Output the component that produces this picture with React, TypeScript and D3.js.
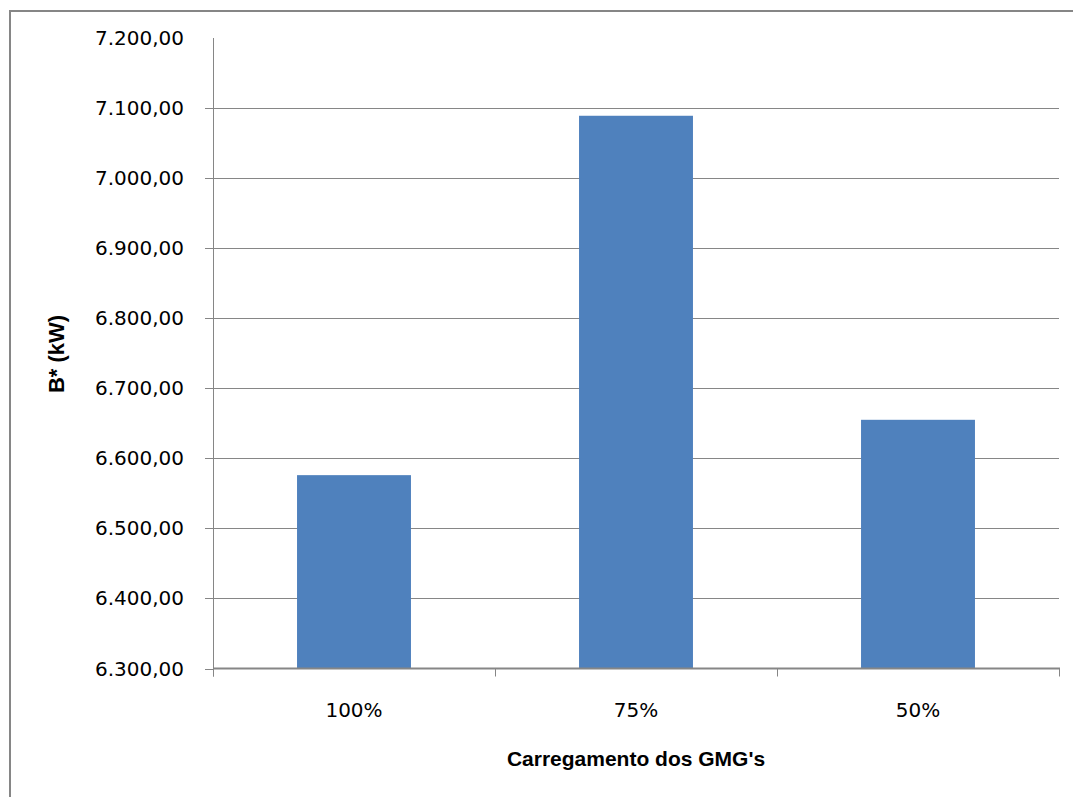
import React, { useEffect, useRef } from "react";
import * as d3 from "d3";

const categories: string[] = ["100%", "75%", "50%"];
const values: number[] = [6576, 7089, 6655];
const yTicks: number[] = [6300, 6400, 6500, 6600, 6700, 6800, 6900, 7000, 7100, 7200];
const yDomain: [number, number] = [6300, 7200];
const xTitle = "Carregamento dos GMG's";
const yTitle = "B* (kW)";

const W = 1073;
const H = 797;
const plot = { left: 213, right: 1059, top: 38, bottom: 668.5 };
const axisColor = "#868686";
const barColor = "#4F81BD";

const fmt = (v: number) => {
  const s = d3.format(",.2f")(v);
  return s.replace(/,/g, "#").replace(/\./g, ",").replace(/#/g, ".");
};

export default function App() {
  const ref = useRef<SVGSVGElement | null>(null);

  useEffect(() => {
    const svg = d3.select(ref.current);
    svg.selectAll("*").remove();

    const x = d3
      .scaleBand<string>()
      .domain(categories)
      .range([plot.left, plot.right])
      .paddingInner(0.596)
      .paddingOuter(0.298);
    const step = x.step();

    const y = d3.scaleLinear().domain(yDomain).range([plot.bottom, plot.top]);

    // chart frame
    svg
      .append("rect")
      .attr("x", 10)
      .attr("y", 11)
      .attr("width", W + 20)
      .attr("height", H + 20)
      .attr("fill", "none")
      .attr("stroke", axisColor)
      .attr("stroke-width", 2);

    // horizontal gridlines
    svg
      .append("g")
      .selectAll("line")
      .data(yTicks.filter((t) => t > yDomain[0] && t < yDomain[1]))
      .join("line")
      .attr("x1", plot.left)
      .attr("x2", plot.right)
      .attr("y1", (d) => Math.round(y(d)) + 0.5)
      .attr("y2", (d) => Math.round(y(d)) + 0.5)
      .attr("stroke", axisColor)
      .attr("stroke-width", 1);

    // bars
    svg
      .append("g")
      .selectAll("rect")
      .data(categories.map((c, i) => ({ c, v: values[i] })))
      .join("rect")
      .attr("x", (d) => x(d.c)!)
      .attr("width", x.bandwidth())
      .attr("y", (d) => y(d.v))
      .attr("height", (d) => y(yDomain[0]) - y(d.v))
      .attr("fill", barColor);

    // y axis line and ticks
    svg
      .append("line")
      .attr("x1", plot.left + 0.5)
      .attr("x2", plot.left + 0.5)
      .attr("y1", plot.top)
      .attr("y2", plot.bottom + 8)
      .attr("stroke", axisColor);
    svg
      .append("g")
      .selectAll("line")
      .data(yTicks.filter((t) => t < yDomain[1]))
      .join("line")
      .attr("x1", plot.left - 8)
      .attr("x2", plot.left)
      .attr("y1", (d) => Math.round(y(d)) + 0.5)
      .attr("y2", (d) => Math.round(y(d)) + 0.5)
      .attr("stroke", axisColor);

    svg
      .append("g")
      .selectAll("text")
      .data(yTicks)
      .join("text")
      .attr("x", 184)
      .attr("y", (d) => y(d) + 7)
      .attr("text-anchor", "end")
      .attr("font-family", "'DejaVu Sans', sans-serif")
      .attr("font-size", 20)
      .attr("fill", "#000")
      .text((d) => fmt(d));

    // x axis line and boundary ticks
    svg
      .append("line")
      .attr("x1", plot.left)
      .attr("x2", plot.right + 1)
      .attr("y1", plot.bottom)
      .attr("y2", plot.bottom)
      .attr("stroke", axisColor)
      .attr("stroke-width", 2);
    const bounds = d3.range(categories.length + 1).map((i) => plot.left + i * step);
    svg
      .append("g")
      .selectAll("line")
      .data(bounds)
      .join("line")
      .attr("x1", (d) => Math.round(d) + 0.5)
      .attr("x2", (d) => Math.round(d) + 0.5)
      .attr("y1", plot.bottom)
      .attr("y2", plot.bottom + 8)
      .attr("stroke", axisColor);

    svg
      .append("g")
      .selectAll("text")
      .data(categories)
      .join("text")
      .attr("x", (d) => x(d)! + x.bandwidth() / 2)
      .attr("y", 717)
      .attr("text-anchor", "middle")
      .attr("font-family", "'DejaVu Sans', sans-serif")
      .attr("font-size", 20)
      .attr("fill", "#000")
      .text((d) => d);

    // axis titles
    svg
      .append("text")
      .attr("x", (plot.left + plot.right) / 2)
      .attr("y", 766)
      .attr("text-anchor", "middle")
      .attr("font-family", "'Liberation Sans', Arial, sans-serif")
      .attr("font-weight", "bold")
      .attr("font-size", 21)
      .attr("fill", "#000")
      .text(xTitle);

    svg
      .append("text")
      .attr("transform", "translate(64,354) rotate(-90)")
      .attr("text-anchor", "middle")
      .attr("font-family", "'Liberation Sans', Arial, sans-serif")
      .attr("font-weight", "bold")
      .attr("font-size", 22)
      .attr("fill", "#000")
      .text(yTitle);
  }, []);

  return (
    <svg
      ref={ref}
      width={W}
      height={H}
      style={{ position: "fixed", left: 0, top: 0, background: "#fff" }}
    />
  );
}
